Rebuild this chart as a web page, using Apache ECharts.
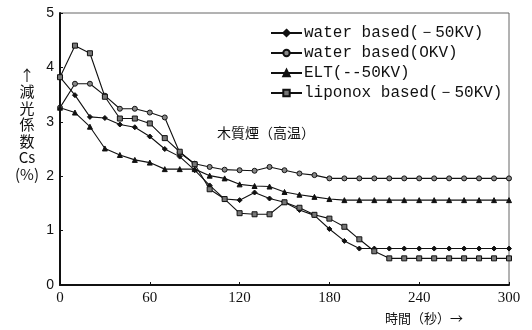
<!DOCTYPE html>
<html>
<head>
<meta charset="utf-8">
<script src="https://cdn.jsdelivr.net/npm/echarts@6/dist/echarts.min.js"></script>
<style>
html,body{margin:0;padding:0;background:#fff;}
#chart{width:532px;height:330px;}
</style>
</head>
<body>
<div id="chart"></div>
<script>
const times = [0,10,20,30,40,50,60,70,80,90,100,110,120,130,140,150,160,170,180,190,200,210,220,230,240,250,260,270,280,290,300];
const xTicks = [0,60,120,180,240,300];
const yTicks = [0,1,2,3,4,5];
const seriesNames = ['water based(－50KV)','water based(OKV)','ELT(--50KV)','liponox based(－50KV)'];
const waterNeg50 = [3.82,3.49,3.09,3.07,2.95,2.90,2.73,2.50,2.36,2.11,1.83,1.58,1.56,1.70,1.59,1.52,1.38,1.28,1.03,0.81,0.67,0.67,0.67,0.67,0.67,0.67,0.67,0.67,0.67,0.67,0.67];
const water0 = [3.26,3.70,3.70,3.48,3.24,3.24,3.17,3.08,2.43,2.23,2.17,2.12,2.11,2.10,2.17,2.11,2.05,2.02,1.96,1.96,1.96,1.96,1.96,1.96,1.96,1.96,1.96,1.96,1.96,1.96,1.96];
const elt = [3.26,3.17,2.91,2.51,2.39,2.30,2.25,2.13,2.13,2.13,2.01,1.96,1.85,1.82,1.81,1.71,1.66,1.62,1.58,1.56,1.56,1.56,1.56,1.56,1.56,1.56,1.56,1.56,1.56,1.56,1.56];
const liponox = [3.82,4.40,4.26,3.46,3.06,3.06,2.97,2.70,2.45,2.22,1.76,1.58,1.32,1.30,1.30,1.52,1.42,1.29,1.22,1.07,0.84,0.62,0.49,0.49,0.49,0.49,0.49,0.49,0.49,0.49,0.49];
const yTitle = ['↑','減','光','係','数','Cs','(%)'];
const xTitle = '時間（秒）→';
const note = '木質煙（高温）';

const pair = arr => times.map((t,i)=>[t,arr[i]]);
const chart = echarts.init(document.getElementById('chart'), null, {renderer:'canvas'});
const mk = (name, data, symbol, size, fill) => ({
  name, type:'line', data: pair(data), symbol, symbolSize:size,
  lineStyle:{color:'#111', width:1.1},
  itemStyle:{color:fill, borderColor:'#111', borderWidth:1},
  emphasis:{disabled:true}, animation:false
});
chart.setOption({
  animation:false,
  grid:{left:60, right:23, top:13, bottom:45, show:true, borderColor:'#666', borderWidth:1},
  xAxis:{type:'value', min:0, max:300, interval:60,
    axisLine:{lineStyle:{color:'#111', width:2}},
    axisTick:{inside:true, length:3, lineStyle:{color:'#111'}},
    splitLine:{show:false},
    axisLabel:{color:'#111', fontFamily:'Liberation Serif', fontSize:15, margin:6,
      formatter:v=> xTicks.includes(v) ? String(v) : ''}
  },
  yAxis:{type:'value', min:0, max:5, interval:1,
    axisLine:{show:true, lineStyle:{color:'#111', width:2}},
    axisTick:{show:true, inside:true, length:3, lineStyle:{color:'#111'}},
    splitLine:{show:false},
    axisLabel:{color:'#111', fontFamily:'Liberation Sans', fontSize:14, margin:6,
      formatter:v=> yTicks.includes(v) ? String(v) : ''}
  },
  legend:{orient:'vertical', left:270, top:24, padding:0, itemWidth:31, itemHeight:8, itemGap:2,
    textStyle:{color:'#111', fontFamily:'Liberation Mono', fontSize:16, lineHeight:18, padding:[0,0,0,-3]},
    data:seriesNames},
  graphic:[
    {type:'text', left:15, top:67, style:{text:yTitle.join('\n'), font:'15px "Noto Sans CJK JP"', lineHeight:16.5, fill:'#111', textAlign:'center', width:20}},
    {type:'text', left:385, top:312, style:{text:xTitle, font:'13px "Noto Sans CJK JP"', fill:'#111'}},
    {type:'text', left:217, top:126, style:{text:note, font:'14px "Noto Sans CJK JP"', fill:'#111'}}
  ],
  series:[
    mk(seriesNames[0], waterNeg50, 'diamond', 5, '#111'),
    mk(seriesNames[1], water0, 'circle', 5, '#888'),
    mk(seriesNames[2], elt, 'triangle', 5, '#111'),
    mk(seriesNames[3], liponox, 'rect', 5, '#777')
  ]
});
</script>
</body>
</html>
